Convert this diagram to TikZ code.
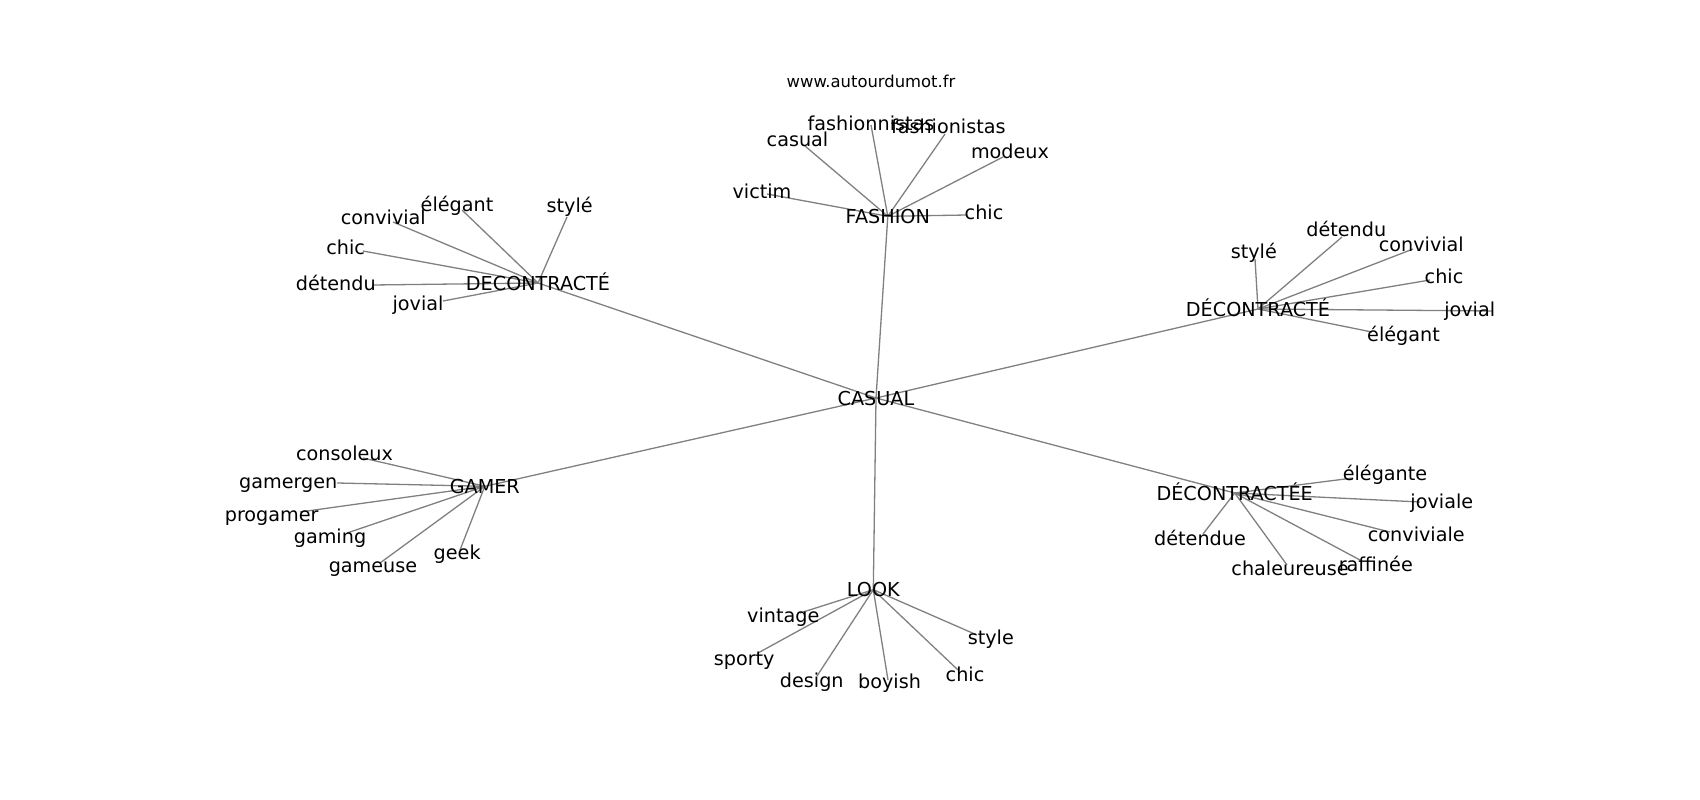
\documentclass[tikz,border=0pt]{standalone}
\usepackage{fontspec}
\setmainfont{DejaVu Sans}

\begin{document}
\begin{tikzpicture}[x=1pt, y=-1pt,
  edge/.style={draw=black!50, line width=1.3pt},
  word/.style={anchor=base, inner sep=0pt, font=\fontsize{19.2}{23}\selectfont},
  hubword/.style={word, yshift=-7pt},
  site/.style={anchor=base, inner sep=0pt, font=\fontsize{16.4}{20}\selectfont}]
  \useasboundingbox (0,0) rectangle (1700,800);

  % hubs
  \coordinate (casual) at (876,398);
  \coordinate (fashion) at (887.8,216.3);
  \coordinate (decoA) at (538,283);
  \coordinate (decoB) at (1258,309);
  \coordinate (gamer) at (484.8,486.3);
  \coordinate (decoee) at (1234.7,493);
  \coordinate (look) at (873.3,589.7);

  % leaf ends
  \coordinate (fa1) at (805,146);
  \coordinate (fa2) at (871,125);
  \coordinate (fa3) at (945,134);
  \coordinate (fa4) at (1003,157);
  \coordinate (fa5) at (967,215);
  \coordinate (fa6) at (767,194);

  \coordinate (da1) at (462,210);
  \coordinate (da2) at (567,217);
  \coordinate (da3) at (393,222);
  \coordinate (da4) at (363,251);
  \coordinate (da5) at (372,285);
  \coordinate (da6) at (443,301);

  \coordinate (db1) at (1255,259);
  \coordinate (db2) at (1342,237);
  \coordinate (db3) at (1413,249);
  \coordinate (db4) at (1430,280);
  \coordinate (db5) at (1493,311);
  \coordinate (db6) at (1372,332);

  \coordinate (ga1) at (363,458);
  \coordinate (ga2) at (337,483);
  \coordinate (ga3) at (300,512);
  \coordinate (ga4) at (347,533);
  \coordinate (ga5) at (380,563);
  \coordinate (ga6) at (460,550);

  \coordinate (de1) at (1353,478);
  \coordinate (de2) at (1420,502);
  \coordinate (de3) at (1390,532);
  \coordinate (de4) at (1360,560);
  \coordinate (de5) at (1287,565);
  \coordinate (de6) at (1203,534);

  \coordinate (lo1) at (800,613);
  \coordinate (lo2) at (758,653);
  \coordinate (lo3) at (817,676);
  \coordinate (lo4) at (888,680);
  \coordinate (lo5) at (958,670);
  \coordinate (lo6) at (977,635);

  % edges
  \draw[edge] (casual) -- (fashion);
  \draw[edge] (casual) -- (decoA);
  \draw[edge] (casual) -- (decoB);
  \draw[edge] (casual) -- (gamer);
  \draw[edge] (casual) -- (decoee);
  \draw[edge] (casual) -- (look);

  \draw[edge] (fashion) -- (fa1);
  \draw[edge] (fashion) -- (fa2);
  \draw[edge] (fashion) -- (fa3);
  \draw[edge] (fashion) -- (fa4);
  \draw[edge] (fashion) -- (fa5);
  \draw[edge] (fashion) -- (fa6);

  \draw[edge] (decoA) -- (da1);
  \draw[edge] (decoA) -- (da2);
  \draw[edge] (decoA) -- (da3);
  \draw[edge] (decoA) -- (da4);
  \draw[edge] (decoA) -- (da5);
  \draw[edge] (decoA) -- (da6);

  \draw[edge] (decoB) -- (db1);
  \draw[edge] (decoB) -- (db2);
  \draw[edge] (decoB) -- (db3);
  \draw[edge] (decoB) -- (db4);
  \draw[edge] (decoB) -- (db5);
  \draw[edge] (decoB) -- (db6);

  \draw[edge] (gamer) -- (ga1);
  \draw[edge] (gamer) -- (ga2);
  \draw[edge] (gamer) -- (ga3);
  \draw[edge] (gamer) -- (ga4);
  \draw[edge] (gamer) -- (ga5);
  \draw[edge] (gamer) -- (ga6);

  \draw[edge] (decoee) -- (de1);
  \draw[edge] (decoee) -- (de2);
  \draw[edge] (decoee) -- (de3);
  \draw[edge] (decoee) -- (de4);
  \draw[edge] (decoee) -- (de5);
  \draw[edge] (decoee) -- (de6);

  \draw[edge] (look) -- (lo1);
  \draw[edge] (look) -- (lo2);
  \draw[edge] (look) -- (lo3);
  \draw[edge] (look) -- (lo4);
  \draw[edge] (look) -- (lo5);
  \draw[edge] (look) -- (lo6);

  % labels
  \node[site] (site) at (871,88) {www.autourdumot.fr};

  \node[hubword] (casualt) at (casual) {CASUAL};
  \node[hubword] (fashiont) at (fashion) {FASHION};
  \node[hubword] (decoAt) at (decoA) {DECONTRACTÉ};
  \node[hubword] (decoBt) at (decoB) {DÉCONTRACTÉ};
  \node[hubword] (gamert) at (gamer) {GAMER};
  \node[hubword] (decoeet) at (decoee) {DÉCONTRACTÉE};
  \node[hubword] (lookt) at (look) {LOOK};

  \node[word] (fa1t) at (797.5,146) {casual};
  \node[word] (fa2t) at (871,130) {fashionnistas};
  \node[word] (fa3t) at (948.3,133.3) {fashionistas};
  \node[word] (fa4t) at (1010,158.3) {modeux};
  \node[word] (fa5t) at (984,219.3) {chic};
  \node[word] (fa6t) at (762,198.7) {victim};

  \node[word] (da1t) at (457,211.7) {élégant};
  \node[word] (da2t) at (569.7,212.7) {stylé};
  \node[word] (da3t) at (383.3,224.3) {convivial};
  \node[word] (da4t) at (345.7,254.3) {chic};
  \node[word] (da5t) at (335.8,290) {détendu};
  \node[word] (da6t) at (418,310) {jovial};

  \node[word] (db1t) at (1253.8,258.3) {stylé};
  \node[word] (db2t) at (1346.3,236.7) {détendu};
  \node[word] (db3t) at (1421.3,251.7) {convivial};
  \node[word] (db4t) at (1444,283.3) {chic};
  \node[word] (db5t) at (1469.7,316) {jovial};
  \node[word] (db6t) at (1403.5,341.7) {élégant};

  \node[word] (ga1t) at (344.5,460.7) {consoleux};
  \node[word] (ga2t) at (288.3,488.3) {gamergen};
  \node[word] (ga3t) at (271.7,521.7) {progamer};
  \node[word] (ga4t) at (330,543.3) {gaming};
  \node[word] (ga5t) at (373,572.7) {gameuse};
  \node[word] (ga6t) at (457.2,559.3) {geek};

  \node[word] (de1t) at (1385,480) {élégante};
  \node[word] (de2t) at (1441.8,508.3) {joviale};
  \node[word] (de3t) at (1416.3,541.7) {conviviale};
  \node[word] (de4t) at (1375.8,571.7) {raffinée};
  \node[word] (de5t) at (1290,575) {chaleureuse};
  \node[word] (de6t) at (1200,545) {détendue};

  \node[word] (lo1t) at (783.3,622.7) {vintage};
  \node[word] (lo2t) at (744.2,665) {sporty};
  \node[word] (lo3t) at (811.8,687.3) {design};
  \node[word] (lo4t) at (889.5,688.3) {boyish};
  \node[word] (lo5t) at (965,681.7) {chic};
  \node[word] (lo6t) at (990.8,644) {style};
\end{tikzpicture}
\end{document}
